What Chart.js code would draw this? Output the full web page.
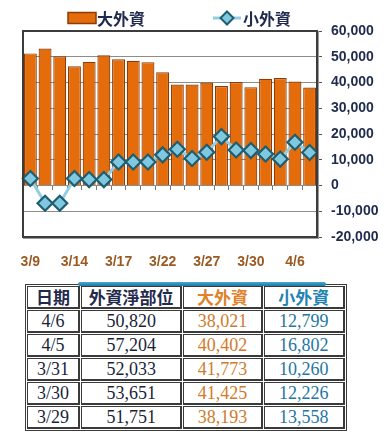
<!DOCTYPE html>
<html>
<head>
<meta charset="utf-8">
<script src="https://cdn.jsdelivr.net/npm/chart.js@4/dist/chart.umd.min.js"></script>
<style>
  html, body { margin: 0; padding: 0; background: #fff; }
  #wrap { position: relative; width: 386px; height: 439px; overflow: hidden; }
  #chart { position: absolute; left: 0; top: 0; }
  #tabline { position: absolute; left: 78px; top: 282px; width: 248px; height: 4px; border-radius: 2px; background: linear-gradient(#4aa6cf, #1c7aa8); }
  table { position: absolute; left: 25px; top: 284px; width: 322px; table-layout: fixed;
          border-collapse: separate; border-spacing: 1px; border: 1px solid #3a3a3a; }
  td, th { border: 1px solid #3a3a3a; border-right-width: 2px; border-bottom-width: 2px;
           text-align: center; padding: 0; height: 20px; line-height: 20px; }
  th { font-family: "Noto Sans CJK TC", sans-serif; font-weight: 700; font-size: 17px; color: #1f2a4d; }
  td { font-family: "Liberation Serif", serif; font-size: 18px; color: #1a1f3a; }
  .big { color: #d07a2c; }
  .small { color: #1f77a3; }
  th.big { color: #e0822a; }
  th.small { color: #2383b3; }
</style>
</head>
<body>
<div id="wrap">
  <canvas id="chart" width="386" height="278"></canvas>
  <table id="tbl">
    <colgroup><col style="width:52px"><col style="width:100px"><col style="width:78px"><col style="width:80px"></colgroup>
    <thead><tr id="hdr"></tr></thead>
    <tbody id="tbody"></tbody>
  </table>
  <div id="tabline"></div>
</div>
<script>
// ---- chart data ----
const dates = ['3/9','3/10','3/13','3/14','3/15','3/16','3/17','3/20','3/21','3/22','3/23','3/24','3/27','3/28','3/29','3/30','3/31','4/5','4/6','4/7'];
const bigForeign = [51300, 53200, 50200, 46300, 48000, 50600, 49000, 48400, 47900, 44000, 39200, 39200, 40000, 38600, 40200, 38193, 41425, 41773, 40402, 38021];
const smallForeign = [2700, -6900, -6900, 2700, 2300, 2300, 9100, 9100, 9100, 11900, 14100, 10500, 12900, 19000, 13800, 13558, 12226, 10260, 16802, 12799];
const seriesNames = ['大外資', '小外資'];
const yTicksMin = -20000, yTicksMax = 60000, yStep = 10000;

// ---- table data ----
const tableHeaders = ['日期', '外資淨部位', '大外資', '小外資'];
const tableDates = ['4/6', '4/5', '3/31', '3/30', '3/29'];
const tableNet = [50820, 57204, 52033, 53651, 51751];
const tableBig = [38021, 40402, 41773, 41425, 38193];
const tableSmall = [12799, 16802, 10260, 12226, 13558];

const fmt = v => v.toLocaleString('en-US');

// build table
const hdr = document.getElementById('hdr');
tableHeaders.forEach((h, i) => {
  const th = document.createElement('th');
  th.textContent = h;
  if (i === 2) th.className = 'big';
  if (i === 3) th.className = 'small';
  hdr.appendChild(th);
});
const tb = document.getElementById('tbody');
tableDates.forEach((d, r) => {
  const tr = document.createElement('tr');
  [[d, ''], [fmt(tableNet[r]), ''], [fmt(tableBig[r]), 'big'], [fmt(tableSmall[r]), 'small']].forEach(([t, c]) => {
    const td = document.createElement('td');
    td.textContent = t;
    if (c) td.className = c;
    tr.appendChild(td);
  });
  tb.appendChild(tr);
});

const ORANGE = '#e46c0a', BAR_EDGE = '#8a3d0a';
const LINE = '#93cfe1', MARK_FILL = '#7fc8df', MARK_EDGE = '#1f5d70';
const NAVY = '#1f2a4d';

// frame around plot area
const framePlugin = {
  id: 'frame',
  afterDatasetsDraw(chart) {
    const a = chart.chartArea, ctx = chart.ctx;
    ctx.save();
    ctx.strokeStyle = '#9a9a9a';
    ctx.lineWidth = 1;
    ctx.strokeRect(a.left + 0.5, a.top + 0.5, a.right - a.left + 1, a.bottom - a.top + 1);
    ctx.strokeStyle = '#3c3c3c';
    ctx.lineWidth = 2;
    ctx.strokeRect(a.left, a.top, a.right - a.left, a.bottom - a.top);
    ctx.restore();
  }
};

// Excel-like legend
const legendPlugin = {
  id: 'xlLegend',
  afterDraw(chart) {
    const ctx = chart.ctx;
    const ds = chart.data.datasets;
    const cy = 18;
    ctx.save();
    ctx.font = '700 16px "Noto Sans CJK TC", sans-serif';
    ctx.textBaseline = 'middle';
    ctx.fillStyle = NAVY;
    // bar item
    ctx.fillStyle = ds[0].backgroundColor;
    ctx.fillRect(68, cy - 5.5, 28, 11);
    ctx.strokeStyle = ds[0].borderColor;
    ctx.lineWidth = 1.5;
    ctx.strokeRect(68, cy - 5.5, 28, 11);
    ctx.fillStyle = NAVY;
    ctx.fillText(ds[0].label, 97, cy + 1);
    // line item
    ctx.strokeStyle = ds[1].borderColor;
    ctx.lineWidth = 3;
    ctx.beginPath(); ctx.moveTo(213, cy); ctx.lineTo(241, cy); ctx.stroke();
    ctx.beginPath();
    ctx.moveTo(227, cy - 6.5); ctx.lineTo(233.5, cy); ctx.lineTo(227, cy + 6.5); ctx.lineTo(220.5, cy); ctx.closePath();
    ctx.fillStyle = ds[1].pointBackgroundColor; ctx.fill();
    ctx.strokeStyle = ds[1].pointBorderColor; ctx.lineWidth = 2; ctx.stroke();
    ctx.fillStyle = NAVY;
    ctx.fillText(ds[1].label, 243, cy + 1);
    ctx.restore();
  }
};

new Chart(document.getElementById('chart'), {
  type: 'bar',
  data: {
    labels: dates,
    datasets: [
      {
        type: 'line', label: seriesNames[1], data: smallForeign, order: 0,
        borderColor: LINE, borderWidth: 3, backgroundColor: MARK_FILL,
        pointStyle: 'rectRot', pointRadius: 7.5, pointBorderWidth: 2.2,
        pointBackgroundColor: MARK_FILL, pointBorderColor: MARK_EDGE,
        tension: 0, yAxisID: 'y', xAxisID: 'x'
      },
      {
        type: 'bar', label: seriesNames[0], data: bigForeign, order: 1,
        backgroundColor: ORANGE, borderColor: BAR_EDGE, borderWidth: 1.2,
        categoryPercentage: 0.88, barPercentage: 1, yAxisID: 'y', xAxisID: 'x'
      }
    ].reverse()
  },
  options: {
    responsive: false,
    animation: false,
    layout: { padding: { left: 23, top: 31, right: 0, bottom: 0 } },
    plugins: { legend: { display: false }, tooltip: { enabled: false } },
    scales: {
      x: {
        type: 'category', position: 'bottom', offset: true,
        grid: { display: false, drawTicks: false, offset: true },
        border: { display: false },
        afterFit: s => { s.height = 41; },
        ticks: {
          autoSkip: false, maxRotation: 0, minRotation: 0, padding: 17,
          color: '#9a5a22', font: { family: '"Liberation Sans", Arial, sans-serif', size: 14, weight: '700' },
          callback: (v, i) => (i % 3 === 0 ? dates[i] : '')
        }
      },
      x0: {
        type: 'category', position: { y: 0 }, offset: true,
        grid: { display: true, drawOnChartArea: false, drawTicks: true, tickLength: 4, tickColor: '#7a7a7a', offset: true },
        border: { display: false },
        ticks: { display: false }
      },
      y: {
        position: 'right', min: yTicksMin, max: yTicksMax,
        afterFit: s => { s.width = 69; },
        grid: { color: '#8c8c8c', lineWidth: 1, drawTicks: true, tickLength: 5, tickColor: '#555' },
        border: { display: false },
        ticks: {
          stepSize: yStep, padding: 9, color: NAVY,
          font: { family: '"Liberation Sans", Arial, sans-serif', size: 14, weight: '700' },
          callback: v => fmt(v)
        }
      }
    }
  },
  plugins: [framePlugin, legendPlugin]
});
</script>
</body>
</html>
